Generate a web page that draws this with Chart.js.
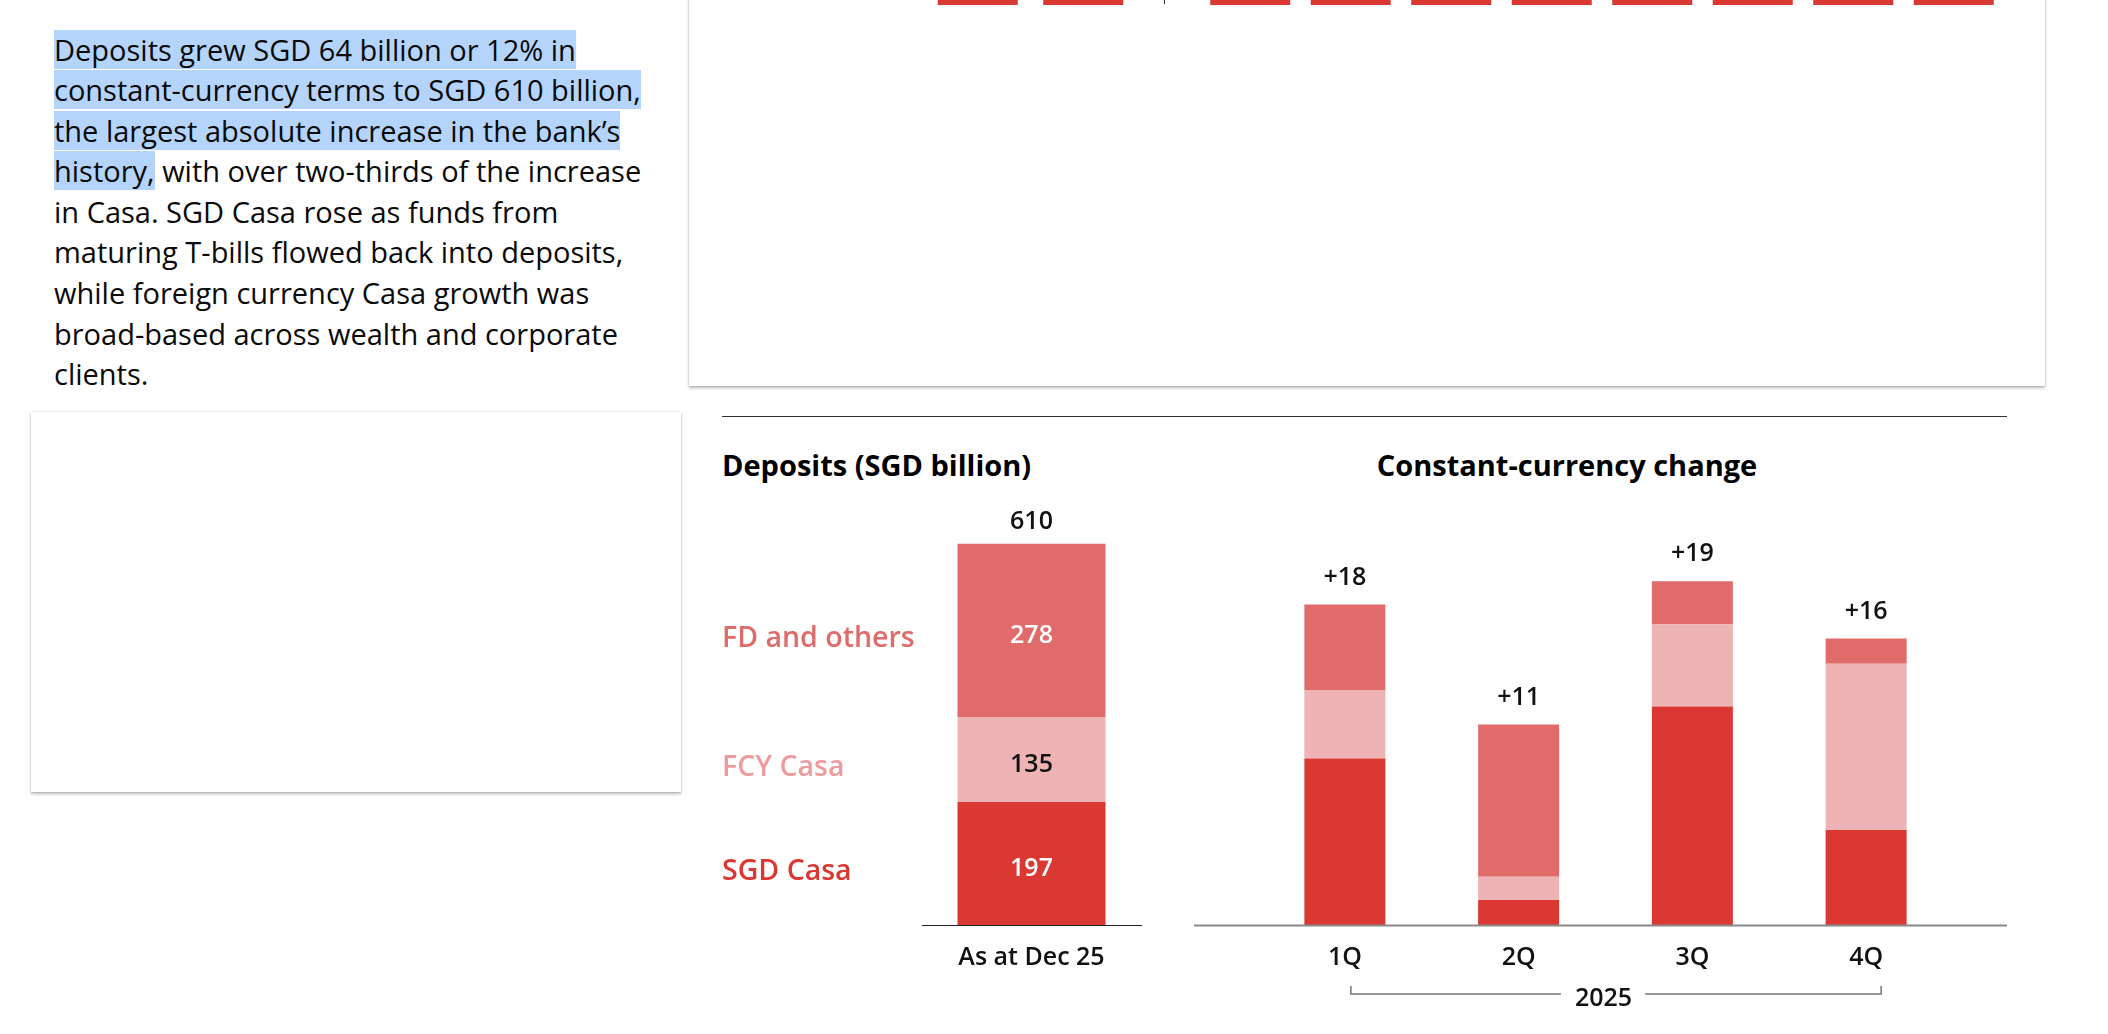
<!DOCTYPE html>
<html>
<head>
<meta charset="utf-8">
<script src="https://cdn.jsdelivr.net/npm/chart.js@4.4.1/dist/chart.umd.min.js"></script>
<style>
  html, body { margin:0; padding:0; background:#fff; width:2108px; height:1034px; overflow:hidden; font-family:'Open Sans', sans-serif; }
  .abs { position:absolute; }
  .card { position:absolute; background:#fff; box-shadow: 0 0 1px rgba(0,0,0,0.25), 0 2px 3px rgba(0,0,0,0.28); }
  #para { left:54px; top:29.5px; font-size:29px; line-height:40.6px; color:#0a0a0a; white-space:nowrap; }
  .hl { background:#b4d4fb; }
  .title { font-weight:700; font-size:29px; color:#000; white-space:nowrap; line-height:34px; }
  canvas { position:absolute; }
</style>
</head>
<body>
<div class="card" style="left:689px; top:-30px; width:1356px; height:416px;"></div>
<div class="card" style="left:31px; top:412px; width:650px; height:380px;"></div>

<div id="para" class="abs">
  <span class="hl">Deposits grew SGD 64 billion or 12% in</span><br>
  <span class="hl">constant-currency terms to SGD 610 billion,</span><br>
  <span class="hl">the largest absolute increase in the bank’s</span><br>
  <span class="hl">history,</span> with over two-thirds of the increase<br>
  in Casa. SGD Casa rose as funds from<br>
  maturing T-bills flowed back into deposits,<br>
  while foreign currency Casa growth was<br>
  broad-based across wealth and corporate<br>
  clients.
</div>

<div class="abs" style="left:1164px; top:0; width:1px; height:4px; background:#333;"></div>
<div class="abs" style="left:722px; top:416px; width:1285px; height:1px; background:#333;"></div>
<div class="abs title" id="t1" style="left:722px; top:448px;">Deposits (SGD billion)</div>
<div class="abs title" id="t2" style="left:1567px; top:448px; transform:translateX(-50%);">Constant-currency change</div>

<canvas id="stubA" width="211" height="105" style="left:925px; top:-100px;"></canvas>
<canvas id="stubB" width="804" height="105" style="left:1200px; top:-100px;"></canvas>
<canvas id="leftChart" width="460" height="554" style="left:700px; top:480px;"></canvas>
<canvas id="rightChart" width="840" height="554" style="left:1180px; top:480px;"></canvas>

<script>
// ---------------- data ----------------
const seriesNames = ['SGD Casa', 'FCY Casa', 'FD and others'];
const seriesColors = ['#db3833', '#eeb3b5', '#e16b6b'];
const seriesTextColors = ['#db3833', '#ee9b9e', '#e06b6b'];
const valueLabelColors = ['#ffffff', '#111111', '#ffffff'];

const depositCategories = ['As at Dec 25'];
const depositSGDCasa = [197];
const depositFCYCasa = [135];
const depositFD = [278];
const depositTotalLabels = ['610'];

const changeCategories = ['1Q', '2Q', '3Q', '4Q'];
const changeSGDCasa = [9.3, 1.4, 12.2, 5.3];
const changeFCYCasa = [3.8, 1.3, 4.6, 9.3];
const changeFD = [4.8, 8.5, 2.4, 1.4];
const changeTotalLabels = ['+18', '+11', '+19', '+16'];
const changeGroupLabel = '2025';

// bottoms of bars from the chart above (cut off by the page edge)
const stubCategoriesA = ['a1', 'a2'];
const stubValuesA = [1, 1];
const stubCategoriesB = ['b1', 'b2', 'b3', 'b4', 'b5', 'b6', 'b7', 'b8'];
const stubValuesB = [1, 1, 1, 1, 1, 1, 1, 1];

// ---------------- setup ----------------
Chart.defaults.font.family = "'Open Sans', sans-serif";
Chart.defaults.animation = false;
Chart.defaults.devicePixelRatio = 1;

const FONT_VAL = "600 25px 'Open Sans'";

function stacked(sgd, fcy, fd) {
  return [sgd, fcy, fd].map((d, i) => ({
    label: seriesNames[i], data: d, backgroundColor: seriesColors[i],
    borderWidth: 0, stack: 's'
  }));
}

const valueLabelsPlugin = {
  id: 'valueLabels',
  afterDatasetsDraw(chart, args, opts) {
    const ctx = chart.ctx;
    ctx.save();
    ctx.textAlign = 'center';
    ctx.textBaseline = 'middle';
    ctx.font = FONT_VAL;
    const n = chart.data.labels.length;
    for (let i = 0; i < n; i++) {
      let topY = Infinity, cx = 0;
      chart.data.datasets.forEach((ds, di) => {
        const el = chart.getDatasetMeta(di).data[i];
        topY = Math.min(topY, el.y);
        cx = el.x;
        if (opts.inside) {
          ctx.fillStyle = valueLabelColors[di];
          ctx.fillText(String(ds.data[i]), el.x, (el.y + el.base) / 2 + 5);
        }
      });
      ctx.fillStyle = '#111';
      ctx.fillText(opts.totals[i], cx, topY - opts.offset);
    }
    ctx.restore();
  }
};

const seriesLabelsPlugin = {
  id: 'seriesLabels',
  afterDatasetsDraw(chart) {
    const ctx = chart.ctx;
    ctx.save();
    ctx.textAlign = 'left';
    ctx.textBaseline = 'middle';
    ctx.font = "600 28.5px 'Open Sans'";
    chart.data.datasets.forEach((ds, di) => {
      const el = chart.getDatasetMeta(di).data[0];
      ctx.fillStyle = seriesTextColors[di];
      ctx.fillText(ds.label, chart.chartArea.left - 200, (el.y + el.base) / 2 + 8);
    });
    ctx.restore();
  }
};

const baselinePlugin = {
  id: 'baseline',
  afterDatasetsDraw(chart) {
    const ctx = chart.ctx, a = chart.chartArea;
    ctx.save();
    ctx.strokeStyle = '#8a8a8a';
    ctx.lineWidth = 2;
    ctx.beginPath();
    ctx.moveTo(a.left - 64, a.bottom + 0.5);
    ctx.lineTo(a.right + 54, a.bottom + 0.5);
    ctx.stroke();
    // year bracket
    const xs = chart.scales.x;
    const xa = xs.getPixelForValue(0), xb = xs.getPixelForValue(changeCategories.length - 1);
    const l = xa + 6, r = xb + 15, yb = a.bottom + 69, yt = a.bottom + 61;
    const tx = (xa + xb) / 2 - 2;
    ctx.font = FONT_VAL;
    const tw = ctx.measureText(changeGroupLabel).width;
    ctx.strokeStyle = '#777';
    ctx.lineWidth = 1.5;
    ctx.beginPath();
    ctx.moveTo(l, yt); ctx.lineTo(l, yb); ctx.lineTo(tx - tw / 2 - 14, yb);
    ctx.moveTo(tx + tw / 2 + 13, yb); ctx.lineTo(r, yb); ctx.lineTo(r, yt);
    ctx.stroke();
    ctx.fillStyle = '#111';
    ctx.textAlign = 'center';
    ctx.textBaseline = 'middle';
    ctx.fillText(changeGroupLabel, tx, a.bottom + 74);
    ctx.restore();
  }
};

function xAxis(borderShow) {
  return {
    stacked: true,
    grid: { display: false, drawTicks: false },
    border: { display: borderShow, color: '#222', width: 1 },
    ticks: { color: '#111', font: { size: 25, weight: '600' }, padding: 18 },
    afterFit(scale) { scale.height = 109; }
  };
}

new Chart(document.getElementById('leftChart'), {
  type: 'bar',
  data: { labels: depositCategories, datasets: stacked(depositSGDCasa, depositFCYCasa, depositFD) },
  options: {
    responsive: false,
    layout: { padding: { left: 222, right: 19, top: 20, bottom: 0 } },
    datasets: { bar: { barPercentage: 148 / 219, categoryPercentage: 1 } },
    plugins: { legend: { display: false }, tooltip: { enabled: false },
      valueLabels: { inside: true, totals: depositTotalLabels, offset: 22 } },
    scales: {
      x: xAxis(true),
      y: { stacked: true, display: false, min: 0, max: 680 }
    }
  },
  plugins: [valueLabelsPlugin, seriesLabelsPlugin]
});

new Chart(document.getElementById('rightChart'), {
  type: 'bar',
  data: { labels: changeCategories, datasets: stacked(changeSGDCasa, changeFCYCasa, changeFD) },
  options: {
    responsive: false,
    layout: { padding: { left: 78, right: 67, top: 20, bottom: 0 } },
    datasets: { bar: { barPercentage: 81 / 173.75, categoryPercentage: 1 } },
    plugins: { legend: { display: false }, tooltip: { enabled: false },
      valueLabels: { inside: false, totals: changeTotalLabels, offset: 27 } },
    scales: {
      x: xAxis(false),
      y: { stacked: true, display: false, min: 0, max: 23.74 }
    }
  },
  plugins: [valueLabelsPlugin, baselinePlugin]
});

function stub(id, labels, values, pct) {
  new Chart(document.getElementById(id), {
    type: 'bar',
    data: { labels: labels, datasets: [{ data: values, backgroundColor: '#db3833', borderWidth: 0 }] },
    options: {
      responsive: false,
      layout: { padding: 0 },
      datasets: { bar: { barPercentage: pct, categoryPercentage: 1 } },
      plugins: { legend: { display: false }, tooltip: { enabled: false } },
      scales: { x: { display: false }, y: { display: false, min: 0, max: 1 } }
    }
  });
}
stub('stubA', stubCategoriesA, stubValuesA, 80 / 105.5);
stub('stubB', stubCategoriesB, stubValuesB, 80 / 100.5);
</script>
</body>
</html>
